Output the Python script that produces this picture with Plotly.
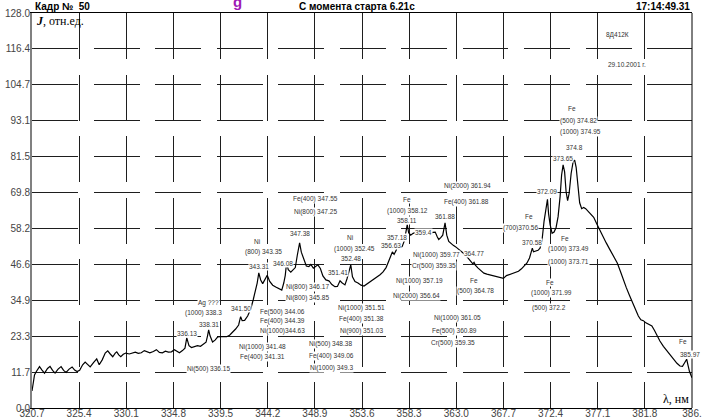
import plotly.graph_objects as go

# ---- spectrum (wavelength, nm ; relative intensity) ----
wavelength = [
    320.70, 320.80, 320.95, 321.15, 321.45, 321.70, 321.95, 322.25, 322.50, 322.75,
    323.00, 323.30, 323.60, 323.85, 324.10, 324.40, 324.70, 324.95, 325.20, 325.45,
    325.75, 326.00, 326.25, 326.50, 326.85, 327.15, 327.40, 327.70, 328.00, 328.25,
    328.50, 328.75, 329.00, 329.15, 329.35, 329.55, 329.80, 330.05, 330.40, 330.70,
    331.00, 331.30, 331.60, 331.90, 332.15, 332.45, 332.80, 333.10, 333.40, 333.70,
    334.00, 334.30, 334.60, 334.90, 335.15, 335.40, 335.70, 335.95, 336.13, 336.35,
    336.60, 336.90, 337.20, 337.50, 337.80, 338.05, 338.20, 338.31, 338.45, 338.70,
    338.95, 339.20, 339.50, 339.80, 340.10, 340.40, 340.70, 341.00, 341.30, 341.40,
    341.50, 341.65, 341.90, 342.20, 342.50, 342.75, 343.00, 343.15, 343.31, 343.50,
    343.70, 343.95, 344.15, 344.40, 344.70, 345.00, 345.30, 345.60, 345.80, 345.95,
    346.08, 346.25, 346.50, 346.75, 346.95, 347.15, 347.38, 347.55, 347.80, 348.05,
    348.30, 348.50, 348.75, 349.00, 349.20, 349.45, 349.70, 350.00, 350.30, 350.60,
    350.90, 351.15, 351.41, 351.60, 351.90, 352.10, 352.30, 352.48, 352.65, 352.90,
    353.20, 353.50, 353.80, 354.10, 354.40, 354.80, 355.10, 355.40, 355.70, 356.00,
    356.25, 356.45, 356.63, 356.80, 357.00, 357.18, 357.40, 357.60, 357.80, 357.95,
    358.11, 358.25, 358.45, 358.70, 358.95, 359.15, 359.40, 359.65, 359.90, 360.15,
    360.40, 360.65, 360.90, 361.10, 361.25, 361.45, 361.65, 361.88, 362.05, 362.25,
    362.45, 362.70, 362.95, 363.20, 363.45, 363.70, 363.95, 364.20, 364.45, 364.65,
    364.77, 364.90, 365.15, 365.45, 365.75, 366.05, 366.40, 366.75, 367.10, 367.40,
    367.70, 368.00, 368.30, 368.60, 368.90, 369.20, 369.50, 369.80, 370.05, 370.30,
    370.45, 370.58, 370.70, 370.90, 371.15, 371.35, 371.55, 371.75, 371.90, 372.09,
    372.20, 372.35, 372.55, 372.75, 372.95, 373.15, 373.35, 373.50, 373.65, 373.80,
    373.95, 374.10, 374.25, 374.45, 374.65, 374.80, 374.95, 375.10, 375.30, 375.50,
    375.70, 375.90, 376.10, 376.40, 376.70, 377.00, 377.30, 377.60, 377.95, 378.30,
    378.70, 379.05, 379.35, 379.65, 379.95, 380.25, 380.55, 380.85, 381.15, 381.40,
    381.65, 381.90, 382.20, 382.50, 382.75, 383.00, 383.30, 383.65, 384.00, 384.35,
    384.70, 385.00, 385.30, 385.55, 385.75, 385.97, 386.10, 386.25, 386.50,
]
intensity = [
    5.5, 8.3, 10.7, 11.9, 13.4, 12.3, 11.3, 12.8, 13.5, 12.2,
    11.3, 12.6, 13.4, 12.2, 11.5, 12.6, 13.3, 12.3, 11.8, 12.2,
    14.0, 14.9, 14.0, 13.3, 14.8, 15.9, 14.0, 15.6, 17.8, 18.5,
    17.5, 16.6, 17.8, 18.2, 17.2, 16.6, 17.4, 17.8, 17.5, 17.7,
    18.1, 17.7, 17.9, 18.6, 18.2, 17.9, 18.3, 18.9, 18.0, 17.9,
    18.4, 18.1, 18.2, 18.9, 18.4, 17.9, 18.6, 19.4, 22.7, 20.2,
    19.6, 20.0, 20.2, 20.0, 20.6, 21.3, 23.4, 25.3, 23.4, 21.4,
    22.0, 23.0, 23.1, 23.0, 23.1, 23.6, 24.5, 25.6, 26.9, 28.0,
    29.6, 28.3, 28.4, 29.8, 32.0, 35.0, 38.0, 40.5, 43.8, 41.5,
    40.3, 42.0, 43.0, 41.0, 39.8, 39.2, 38.6, 38.2, 40.5, 43.0,
    47.0, 44.8, 44.0, 44.9, 45.5, 49.5, 53.5, 50.5, 48.2, 46.0,
    45.8, 46.5, 45.3, 45.8, 46.4, 45.2, 42.8, 41.5, 41.2, 40.0,
    39.3, 39.4, 41.2, 40.6, 39.9, 41.8, 44.5, 46.4, 42.5, 41.0,
    40.5, 39.8, 39.5, 40.2, 40.8, 41.6, 42.4, 43.2, 44.1, 45.5,
    47.5, 49.0, 50.6, 49.8, 51.0, 52.9, 52.0, 52.3, 54.0, 56.5,
    59.4, 56.8, 56.0, 56.6, 56.9, 56.3, 57.2, 56.6, 56.7, 57.1,
    56.6, 56.9, 57.0, 55.5, 54.6, 55.2, 56.0, 60.0, 56.0, 54.0,
    53.3, 52.7, 52.2, 51.6, 51.0, 50.2, 49.5, 48.5, 47.3, 46.7,
    47.2, 46.3, 45.4, 44.6, 43.7, 43.4, 43.1, 42.7, 42.4, 42.2,
    42.0, 42.9, 43.3, 43.7, 43.9, 44.3, 45.1, 46.0, 47.0, 48.6,
    50.0, 51.8, 50.6, 50.9, 51.1, 51.8, 54.4, 60.5, 64.5, 67.6,
    63.0, 59.5, 56.6, 57.0, 58.5, 62.0, 68.5, 75.5, 78.8, 76.5,
    70.0, 67.2, 69.5, 76.0, 79.8, 80.3, 78.0, 73.0, 66.5, 64.6,
    65.0, 64.6, 63.9, 63.0, 61.8, 59.7, 57.6, 55.6, 53.5, 51.4,
    49.2, 47.0, 44.4, 41.5, 39.0, 36.6, 34.3, 32.0, 29.8, 28.6,
    28.3, 27.6, 27.0, 26.6, 25.2, 23.5, 21.7, 20.0, 18.5, 17.0,
    15.6, 14.5, 13.6, 13.5, 14.6, 15.8, 13.9, 11.8, 9.8,
]

# ---- axis ticks ----
x_tick_values = [320.7 + 4.7 * i for i in range(15)]
x_tick_labels = ["320.7", "325.4", "330.1", "334.8", "339.5", "344.2", "348.9",
                 "353.6", "358.3", "363.0", "367.7", "372.4", "377.1", "381.8", "386."]
y_tick_values = [128.0 * i / 11 for i in range(12)]
y_tick_labels = ["0.0", "11.7", "23.3", "34.9", "46.6", "58.2", "69.8",
                 "81.5", "93.1", "104.7", "116.4", "128.0"]

# ---- line identification labels (text, wavelength anchor, intensity anchor) ----
label_text = [
    "Ag ???", "(1000) 338.3", "338.31", "336.13", "341.50", "Ni(500) 336.15",
    "Ni", "(800) 343.35", "343.31", "346.08", "347.38",
    "Fe(400) 347.55", "Ni(800) 347.25", "Ni(800) 346.17", "Ni(800) 345.85",
    "Fe(500) 344.06", "Fe(400) 344.39", "Ni(1000)344.63",
    "Ni(1000) 341.48", "Fe(400) 341.31",
    "Ni(500) 348.38", "Fe(400) 349.06", "Ni(1000) 349.3",
    "Ni", "(1000) 352.45", "352.48", "351.41",
    "Ni(1000) 351.51", "Fe(400) 351.38", "Ni(900) 351.03",
    "Fe", "(1000) 358.12", "358.11", "357.18", "356.63", "359.4", "361.88",
    "Ni(2000) 361.94", "Fe(400) 361.88", "Ni(1000) 359.77", "Cr(500) 359.35",
    "364.77", "Ni(1000) 357.19", "Ni(2000) 356.64", "Fe", "(500) 364.78",
    "Ni(1000) 361.05", "Fe(500) 360.89", "Cr(500) 359.35",
    "Fe", "(500) 374.82", "(1000) 374.95", "374.8", "373.65", "372.09",
    "Fe", "(700)370.56", "370.58", "Fe", "(1000) 373.49", "(1000) 373.71",
    "Fe", "(1000) 371.99", "(500) 372.2", "Fe", "385.97",
    "8Д412К", "29.10.2001 г.",
]
label_nm = [
    338.25, 337.75, 338.35, 336.15, 341.55, 338.25,
    343.13, 343.73, 343.33, 345.72, 347.42,
    348.92, 348.92, 348.12, 348.12,
    345.63, 345.63, 345.63,
    343.63, 343.63,
    350.41, 350.51, 350.51,
    352.40, 352.90, 352.50, 351.21,
    353.50, 353.50, 353.50,
    358.09, 358.09, 358.09, 357.05, 356.45, 359.78, 361.88,
    364.07, 363.97, 360.98, 360.78,
    364.77, 359.38, 358.99, 364.77, 364.87,
    363.17, 362.87, 362.67,
    374.54, 375.14, 375.34, 374.74, 373.64, 372.05,
    370.25, 369.45, 370.55, 373.84, 374.14, 374.14,
    372.35, 372.54, 372.25, 385.61, 386.31,
    379.12, 380.02,
]
label_val = [
    34.0, 30.8, 27.2, 24.3, 32.1, 12.6,
    54.1, 50.6, 45.7, 46.7, 56.7,
    67.7, 63.5, 39.2, 35.7,
    31.1, 28.2, 25.0,
    19.8, 16.5,
    20.7, 16.9, 13.0,
    55.1, 51.5, 48.3, 43.8,
    32.4, 28.8, 25.0,
    67.7, 63.8, 60.6, 55.2, 52.6, 57.0, 61.9,
    72.0, 66.8, 49.6, 46.0,
    50.2, 41.2, 36.3, 41.2, 37.9,
    29.2, 25.0, 21.1,
    96.9, 93.0, 89.5, 84.3, 80.7, 70.0,
    61.9, 58.3, 53.5, 54.8, 51.5, 47.3,
    40.8, 37.3, 32.4, 21.4, 17.2,
    120.9, 111.2,
]

fig = go.Figure()
fig.add_trace(go.Scatter(
    x=wavelength, y=intensity, mode="lines",
    line=dict(color="black", width=1.2),
    hoverinfo="skip", showlegend=False,
))

grid_style = dict(showgrid=True, gridcolor="#1e1e1e", gridwidth=1.2,
                  griddash="46px,15.5px", zeroline=False, ticks="",
                  automargin=False,
                  tickfont=dict(family="Liberation Sans, Arial", size=10, color="#444"))

fig.update_xaxes(range=[320.7, 386.5], tickmode="array", tickvals=x_tick_values,
                 ticktext=x_tick_labels, showline=True, linecolor="black",
                 linewidth=1, mirror=True, ticklabelstandoff=-4, **grid_style)
fig.update_yaxes(range=[0, 128], tickmode="array", tickvals=y_tick_values,
                 ticktext=y_tick_labels, showline=True, linecolor="#808080",
                 linewidth=2, ticklabelstandoff=-2, **grid_style)

# right frame edge
fig.add_shape(type="line", xref="paper", yref="paper", x0=1, x1=1, y0=0, y1=1,
              line=dict(color="black", width=1))

small = dict(family="Liberation Sans, Arial", size=6.5, color="#333")
for t, xv, yv in zip(label_text, label_nm, label_val):
    fig.add_annotation(x=xv, y=yv, text=t, showarrow=False, font=small,
                       bgcolor="white", borderpad=0)

header = dict(family="Liberation Sans, Arial", size=10, color="black")
fig.add_annotation(xref="paper", yref="paper", x=0, y=1, xanchor="left",
                   yanchor="middle", yshift=7, xshift=1, text="<b>Кадр №  50</b>",
                   showarrow=False, font=header)
fig.add_annotation(xref="paper", yref="paper", x=0.492, y=1, xanchor="center",
                   yanchor="middle", yshift=7, text="<b>С момента старта 6.21с</b>",
                   showarrow=False, font=header)
fig.add_annotation(xref="paper", yref="paper", x=1, y=1, xanchor="right",
                   yanchor="middle", yshift=7, text="<b>17:14:49.31</b>",
                   showarrow=False, font=header)
fig.add_annotation(xref="paper", yref="paper", x=0.312, y=1, xanchor="center",
                   yanchor="middle", yshift=12, text="<b>g</b>", showarrow=False,
                   font=dict(family="Liberation Sans, Arial", size=15, color="#a01ab4"))

serif = dict(family="Liberation Serif, Times New Roman, serif", size=12, color="black")
fig.add_annotation(xref="paper", yref="paper", x=0, y=1, xanchor="left",
                   yanchor="middle", xshift=2, yshift=-8,
                   text="<b><i>J</i></b>, отн.ед.", showarrow=False, font=serif)
fig.add_annotation(xref="paper", yref="paper", x=1, y=0, xanchor="right",
                   yanchor="bottom", xshift=-1, yshift=0,
                   text="λ, нм", showarrow=False, font=serif)

fig.update_layout(
    width=707, height=419,
    margin=dict(l=32, r=15, t=13, b=11),
    paper_bgcolor="white", plot_bgcolor="white",
    showlegend=False,
)

fig.write_html("out.html")
